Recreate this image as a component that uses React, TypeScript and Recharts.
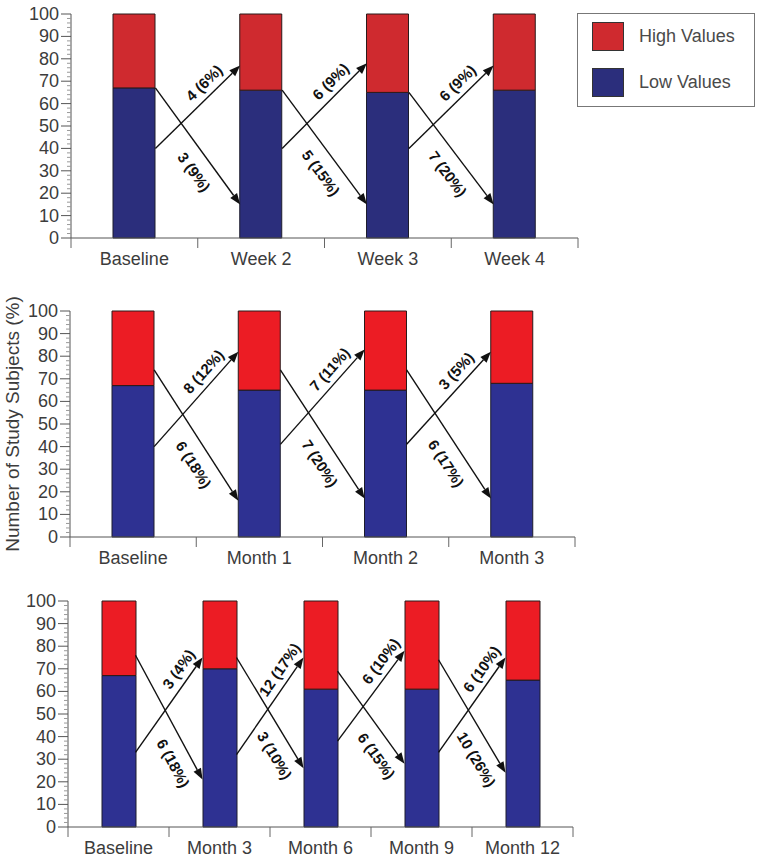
import React from 'react';
import { BarChart, Bar, XAxis, YAxis, ReferenceLine, Legend } from 'recharts';

const FONT = '"Liberation Sans", Arial, Helvetica, sans-serif';

// top panel: weekly visits
const weekCats = ['Baseline', 'Week 2', 'Week 3', 'Week 4'];
const weekLow = [67, 66, 65, 66];
const weekHigh = [33, 34, 35, 34];
const weekUpFrom = [40, 40, 40];
const weekUpTo = [77, 78, 77];
const weekUpLabels = ['4 (6%)', '6 (9%)', '6 (9%)'];
const weekDownFrom = [67, 66, 65];
const weekDownTo = [15, 15, 15];
const weekDownLabels = ['3 (9%)', '5 (15%)', '7 (20%)'];

// middle panel: monthly visits
const monthCats = ['Baseline', 'Month 1', 'Month 2', 'Month 3'];
const monthLow = [67, 65, 65, 68];
const monthHigh = [33, 35, 35, 32];
const monthUpFrom = [40, 41, 41];
const monthUpTo = [82, 83, 82];
const monthUpLabels = ['8 (12%)', '7 (11%)', '3 (5%)'];
const monthDownFrom = [74, 74, 74];
const monthDownTo = [16, 17, 17];
const monthDownLabels = ['6 (18%)', '7 (20%)', '6 (17%)'];

// bottom panel: long term follow-up
const yearCats = ['Baseline', 'Month 3', 'Month 6', 'Month 9', 'Month 12'];
const yearLow = [67, 70, 61, 61, 65];
const yearHigh = [33, 30, 39, 39, 35];
const yearUpFrom = [33, 32, 38, 33];
const yearUpTo = [75, 75, 78, 75];
const yearUpLabels = ['3 (4%)', '12 (17%)', '6 (10%)', '6 (10%)'];
const yearDownFrom = [76, 75, 69, 74];
const yearDownTo = [21, 26, 28, 24];
const yearDownLabels = ['6 (18%)', '3 (10%)', '6 (15%)', '10 (26%)'];

const legendOrder = ['High Values', 'Low Values'];
const yTicks = Array.from({ length: 51 }, (_, i) => i * 2);

const CHART_W = 761;

function ArrowShape(props: any) {
  const { x1, y1, x2, y2, half, text, up, t } = props;
  if (x1 == null || x2 == null) return null;
  const sx = x1 + half;
  const ex = x2 - half;
  const dx = ex - sx;
  const dy = y2 - y1;
  const len = Math.hypot(dx, dy);
  const ux = dx / len;
  const uy = dy / len;
  const head = 11;
  const hw = 4.2;
  const bx = ex - ux * head;
  const by = y2 - uy * head;
  const px = -uy;
  const py = ux;
  const angle = (Math.atan2(dy, dx) * 180) / Math.PI;
  const lx = sx + dx * t;
  const ly = y1 + dy * t;
  return (
    <g>
      <line x1={sx} y1={y1} x2={bx} y2={by} stroke="#111" strokeWidth={1.4} />
      <polygon
        points={`${ex},${y2} ${bx + px * hw},${by + py * hw} ${bx - px * hw},${by - py * hw}`}
        fill="#111"
      />
      <text
        transform={`translate(${lx},${ly}) rotate(${angle})`}
        textAnchor="middle"
        dominantBaseline="central"
        dy={up ? -13 : 18}
        fontSize={15}
        fontWeight="bold"
        fill="#111"
        fontFamily={FONT}
      >
        {text}
      </text>
    </g>
  );
}

function YTick({ x, y, payload }: any) {
  const v = payload.value;
  const major = v % 10 === 0;
  return (
    <g>
      <line x1={x - (major ? 10 : 4)} x2={x} y1={y} y2={y} stroke={major ? '#555' : '#9a9a9a'} strokeWidth={1} />
      {major && (
        <text x={x - 12} y={y} textAnchor="end" dominantBaseline="central" fontSize={18} fill="#3c3c3c" fontFamily={FONT}>
          {v}
        </text>
      )}
    </g>
  );
}

function makeXTick(band: number) {
  return function XTick({ x, y, payload, index }: any) {
    return (
      <g>
        {index === 0 && <line x1={x - band / 2} x2={x - band / 2} y1={y} y2={y + 10} stroke="#666" />}
        <line x1={x + band / 2} x2={x + band / 2} y1={y} y2={y + 10} stroke="#666" />
        <text x={x} y={y + 21} textAnchor="middle" dominantBaseline="central" fontSize={18} fill="#3c3c3c" fontFamily={FONT}>
          {payload.value}
        </text>
      </g>
    );
  };
}

function LegendBox({ payload }: any) {
  const items = legendOrder
    .map((name) => (payload || []).find((it: any) => it.value === name))
    .filter(Boolean);
  return (
    <div
      style={{
        width: 176,
        height: 92,
        border: '1px solid #777',
        background: '#fff',
        boxSizing: 'content-box',
        position: 'relative',
        fontFamily: FONT,
      }}
    >
      {items.map((it: any, i: number) => (
        <div key={it.value} style={{ position: 'absolute', left: 14, top: 8 + i * 46, display: 'flex', alignItems: 'center' }}>
          <div style={{ width: 32, height: 29, background: it.color, border: '1px solid #333', boxSizing: 'border-box' }} />
          <span style={{ marginLeft: 15, fontSize: 18, color: '#4a4a4a' }}>{it.value}</span>
        </div>
      ))}
    </div>
  );
}

type PanelProps = {
  cats: string[];
  low: number[];
  high: number[];
  upFrom: number[];
  upTo: number[];
  upLabels: string[];
  downFrom: number[];
  downTo: number[];
  downLabels: string[];
  height: number;
  top: number;
  right: number;
  yWidth: number;
  xHeight: number;
  barSize: number;
  red: string;
  blue: string;
  tUp: number;
  tDown: number;
  legend?: boolean;
  yLabel?: string;
};

function Panel(p: PanelProps) {
  const data = p.cats.map((c, i) => ({ name: c, low: p.low[i], high: p.high[i] }));
  const plotW = CHART_W - p.yWidth - p.right;
  const band = plotW / p.cats.length;
  const half = p.barSize / 2;
  return (
    <BarChart
      width={CHART_W}
      height={p.height}
      data={data}
      margin={{ top: p.top, right: p.right, left: 0, bottom: 0 }}
      barSize={p.barSize}
    >
      <XAxis
        dataKey="name"
        height={p.xHeight}
        axisLine={{ stroke: '#555' }}
        tickLine={false}
        tickSize={0}
        tickMargin={0}
        interval={0}
        tick={makeXTick(band)}
      />
      <YAxis
        width={p.yWidth}
        domain={[0, 100]}
        ticks={yTicks}
        interval={0}
        axisLine={{ stroke: '#555' }}
        tickLine={false}
        tickSize={0}
        tickMargin={0}
        tick={<YTick />}
        label={
          p.yLabel
            ? {
                value: p.yLabel,
                angle: -90,
                position: 'insideLeft',
                offset: 12,
                style: { textAnchor: 'middle', fontSize: 19, fill: '#3c3c3c', fontFamily: FONT },
              }
            : undefined
        }
      />
      <Bar dataKey="low" name="Low Values" stackId="s" fill={p.blue} stroke="#1c1c2c" strokeWidth={1} isAnimationActive={false} />
      <Bar dataKey="high" name="High Values" stackId="s" fill={p.red} stroke="#2a1a1a" strokeWidth={1} isAnimationActive={false} />
      {p.upFrom.map((v, i) => (
        <ReferenceLine
          key={`u${i}`}
          ifOverflow="visible"
          segment={[
            { x: p.cats[i], y: v },
            { x: p.cats[i + 1], y: p.upTo[i] },
          ]}
          shape={(sp: any) => <ArrowShape {...sp} half={half} text={p.upLabels[i]} up t={p.tUp} />}
        />
      ))}
      {p.downFrom.map((v, i) => (
        <ReferenceLine
          key={`d${i}`}
          ifOverflow="visible"
          segment={[
            { x: p.cats[i], y: v },
            { x: p.cats[i + 1], y: p.downTo[i] },
          ]}
          shape={(sp: any) => <ArrowShape {...sp} half={half} text={p.downLabels[i]} up={false} t={p.tDown} />}
        />
      ))}
      {p.legend && (
        <Legend
          layout="horizontal"
          verticalAlign="middle"
          align="center"
          wrapperStyle={{ left: 577, top: 13, width: 178, height: 94 }}
          content={<LegendBox />}
        />
      )}
    </BarChart>
  );
}

export default function App() {
  return (
    <div style={{ position: 'absolute', left: 0, top: 0, width: 761, height: 858, background: '#fff', fontFamily: FONT }}>
      <div style={{ position: 'absolute', left: 0, top: 0 }}>
        <Panel
          cats={weekCats}
          low={weekLow}
          high={weekHigh}
          upFrom={weekUpFrom}
          upTo={weekUpTo}
          upLabels={weekUpLabels}
          downFrom={weekDownFrom}
          downTo={weekDownTo}
          downLabels={weekDownLabels}
          height={280}
          top={14}
          right={183}
          yWidth={71}
          xHeight={42}
          barSize={42}
          red="#cf2a2f"
          blue="#2b2e7c"
          tUp={0.68}
          tDown={0.63}
          legend
        />
      </div>
      <div style={{ position: 'absolute', left: 0, top: 290 }}>
        <Panel
          cats={monthCats}
          low={monthLow}
          high={monthHigh}
          upFrom={monthUpFrom}
          upTo={monthUpTo}
          upLabels={monthUpLabels}
          downFrom={monthDownFrom}
          downTo={monthDownTo}
          downLabels={monthDownLabels}
          height={290}
          top={21}
          right={186}
          yWidth={70}
          xHeight={43}
          barSize={42}
          red="#ec1c24"
          blue="#2e3192"
          tUp={0.7}
          tDown={0.65}
          yLabel="Number of Study Subjects (%)"
        />
      </div>
      <div style={{ position: 'absolute', left: 0, top: 580 }}>
        <Panel
          cats={yearCats}
          low={yearLow}
          high={yearHigh}
          upFrom={yearUpFrom}
          upTo={yearUpTo}
          upLabels={yearUpLabels}
          downFrom={yearDownFrom}
          downTo={yearDownTo}
          downLabels={yearDownLabels}
          height={278}
          top={21}
          right={188}
          yWidth={68}
          xHeight={31}
          barSize={34}
          red="#ec1c24"
          blue="#2e3192"
          tUp={0.8}
          tDown={0.8}
        />
      </div>
    </div>
  );
}
